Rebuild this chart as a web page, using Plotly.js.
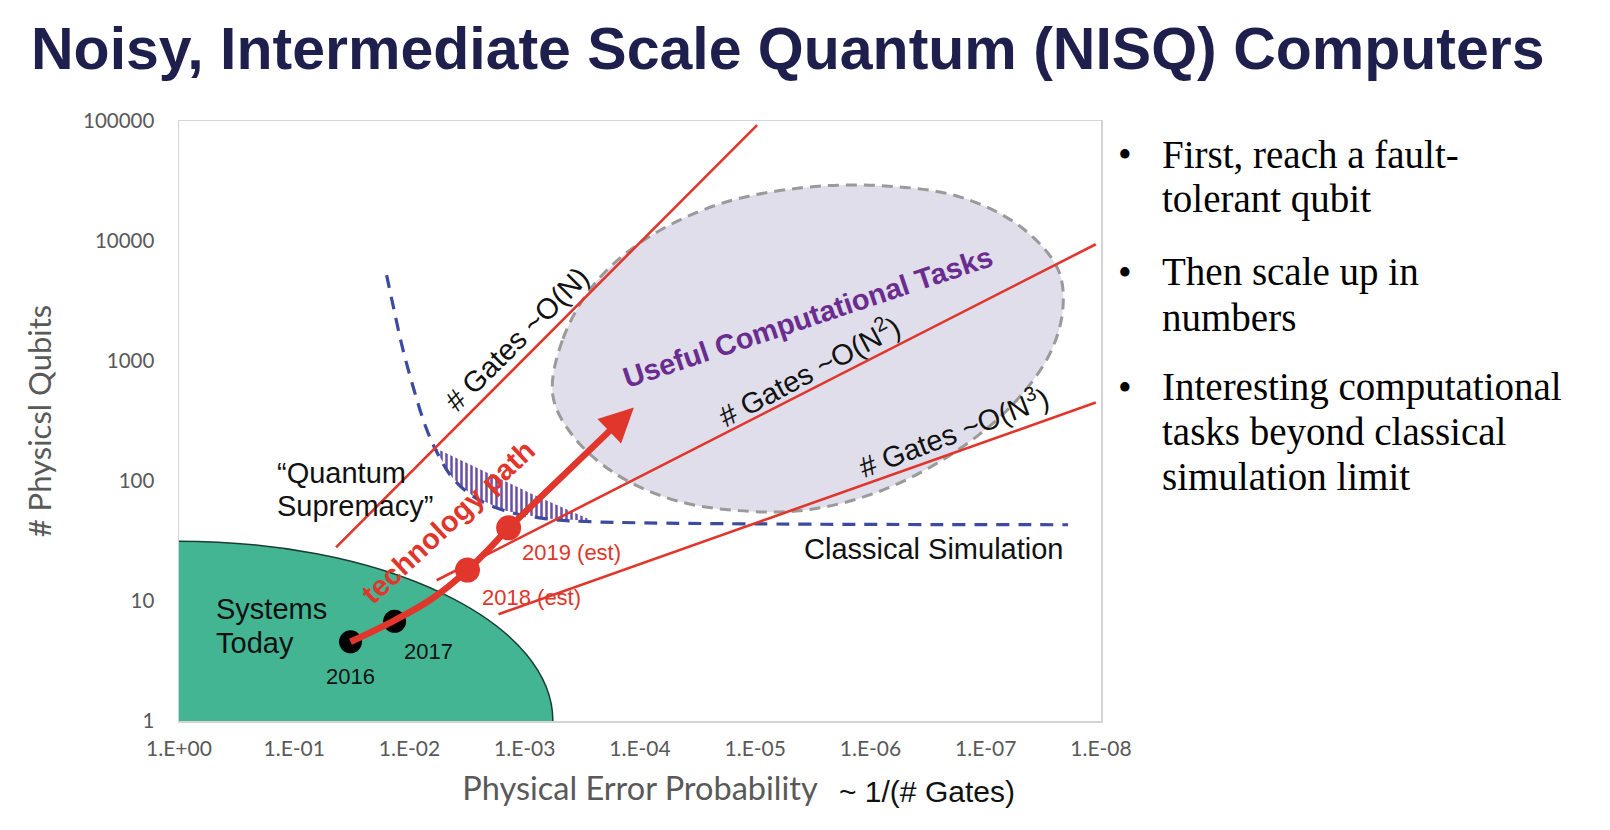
<!DOCTYPE html>
<html>
<head>
<meta charset="utf-8">
<script src="https://cdn.plot.ly/plotly-3.0.1.min.js"></script>
<style>html,body{margin:0;padding:0;background:#fff}</style>
</head>
<body>
<div id="chart" style="width:1610px;height:830px"></div>
<script>
// axes
const errTicks = [1, 1e-1, 1e-2, 1e-3, 1e-4, 1e-5, 1e-6, 1e-7, 1e-8];
const errTickText = ['1.E+00', '1.E-01', '1.E-02', '1.E-03', '1.E-04', '1.E-05', '1.E-06', '1.E-07', '1.E-08'];
const qubitTicks = [1, 10, 100, 1000, 10000, 100000];
const qubitTickText = ['1', '10', '100', '1000', '10000', '100000'];

// "Systems Today" region reaches this far along each axis
const systemsErrReach = 5.7e-4;
const systemsQubitReach = 31.5;

// "Useful Computational Tasks" boundary
const usefulErr = [5.71e-4, 4.66e-4, 2.42e-4, 8.67e-5, 2.06e-5, 3.99e-6, 8.05e-7, 1.66e-7, 4.85e-8, 2.37e-8,
  2.14e-8, 2.79e-8, 5.96e-8, 1.84e-7, 7.74e-7, 3.25e-6, 1.11e-5, 4.68e-5, 1.60e-4, 3.79e-4, 5.71e-4];
const usefulQubits = [518, 1531, 4529, 10570, 20280, 27730, 28910, 23230, 12880, 5848,
  2767, 1140, 425, 175, 84.3, 58.1, 55.8, 67.9, 113.5, 235.5, 518];

// gate-count scaling lines
const gatesN_err = [0.0434, 9.64e-6];
const gatesN_qubits = [28.0, 92470];
const gatesN2_err = [5.81e-3, 1.11e-8];
const gatesN2_qubits = [14.9, 9397];
const gatesN3_err = [1.69e-3, 1.11e-8];
const gatesN3_qubits = [7.76, 451];

// classical simulation limit (dashed)
const classicalErr = [0.0158, 0.01374, 0.01143, 0.00912, 0.00728, 0.00581, 0.00427, 0.00283, 0.00153, 6.7e-4, 2.7e-4, 1.93e-8];
const classicalQubits = [5200, 2770, 1257, 571, 287, 175, 107, 75, 57, 48.6, 45.8, 43.2];

// quantum supremacy sliver (hatched)
const hatchErr = [5.81e-3, 2.31e-3, 8.28e-4, 2.85e-4, 2.85e-4, 6.7e-4, 1.53e-3, 2.83e-3, 4.27e-3, 5.81e-3];
const hatchQubits = [186, 122.7, 76.5, 48.6, 46.8, 48.6, 57, 75, 107, 175];

// technology path
const pathErr = [0.0325, 0.01346, 0.00643, 0.00314, 0.00138];
const pathQubits = [4.57, 6.9, 10.4, 18.1, 40.7];
const pathTipErr = 1.13e-4;
const pathTipQubits = 409;

const pastYears = ['2016', '2017'];
const pastErr = [0.0325, 0.01346];
const pastQubits = [4.57, 6.77];
const estYears = ['2018 (est)', '2019 (est)'];
const estErr = [0.00314, 0.00138];
const estQubits = [18.1, 40.7];

const bullets = [
  ['First, reach a fault-', 'tolerant qubit'],
  ['Then scale up in', 'numbers'],
  ['Interesting computational', 'tasks beyond classical', 'simulation limit']
];

const red = '#e0362c';
const sans = 'Liberation Sans, Arial, sans-serif';

const traces = [
  { x: usefulErr, y: usefulQubits, mode: 'lines', fill: 'toself', fillcolor: '#dfdeea',
    line: { shape: 'spline', color: '#9a9a9a', width: 3, dash: '11px,7px' }, hoverinfo: 'skip' },
  { x: hatchErr, y: hatchQubits, mode: 'lines', fill: 'toself', fillcolor: 'rgba(0,0,0,0)',
    fillpattern: { shape: '|', fgcolor: '#6a4ea6', bgcolor: 'rgba(255,255,255,0)', size: 5, solidity: 0.5 },
    line: { width: 0 }, hoverinfo: 'skip' },
  { x: classicalErr, y: classicalQubits, mode: 'lines',
    line: { shape: 'spline', color: '#3d4b9e', width: 3.2, dash: '13px,9px' } },
  { x: gatesN_err, y: gatesN_qubits, mode: 'lines', line: { color: red, width: 2.6 } },
  { x: gatesN2_err, y: gatesN2_qubits, mode: 'lines', line: { color: red, width: 2.6 } },
  { x: gatesN3_err, y: gatesN3_qubits, mode: 'lines', line: { color: red, width: 2.6 } },
  { x: pastErr, y: pastQubits, mode: 'markers', marker: { color: '#000', size: 23 } },
  { x: pathErr, y: pathQubits, mode: 'lines', line: { shape: 'spline', color: red, width: 6.5 } },
  { x: estErr, y: estQubits, mode: 'markers', marker: { color: red, size: 25 } }
];

// pixel helpers for the text outside the axes
const L = 179, T = 121, W = 922, H = 600;
const px = x => (x - L) / W;
const py = y => (T + H - y) / H;

function lab(text, x, y, o) {
  return Object.assign({ text: text, x: x, y: y, xref: 'x', yref: 'y', showarrow: false,
    font: { family: sans, size: 29, color: '#111' } }, o || {});
}

const annotations = [
  // arrow head of the technology path
  { x: Math.log10(pathTipErr), y: Math.log10(pathTipQubits), xref: 'x', yref: 'y',
    ax: Math.log10(pathErr[pathErr.length - 1]), ay: Math.log10(pathQubits[pathQubits.length - 1]),
    axref: 'x', ayref: 'y', text: '', showarrow: true, arrowhead: 2, arrowsize: 1.05,
    arrowwidth: 6.5, arrowcolor: red, standoff: 0, startstandoff: 0 },
  lab('# Gates ~O(N)', -2.931, 3.185, { textangle: -45 }),
  lab('# Gates ~O(N<sup>2</sup>)', -5.461, 2.928, { textangle: -28 }),
  lab('# Gates ~O(N<sup>3</sup>)', -6.717, 2.414, { textangle: -21 }),
  lab('<b>Useful Computational Tasks</b>', -5.461, 3.365, { textangle: -18.5, font: { family: sans, size: 29, color: '#6b2c8f' } }),
  lab('<b>technology path</b>', -2.334, 1.661, { textangle: -43, font: { family: sans, size: 29, color: red } }),
  lab('\u201cQuantum', -0.837, 2.063, { xanchor: 'left' }),
  lab('Supremacy\u201d', -0.837, 1.789, { xanchor: 'left' }),
  lab('Systems', -0.303, 0.933, { xanchor: 'left' }),
  lab('Today', -0.303, 0.651, { xanchor: 'left' }),
  lab(pastYears[0], -1.488, 0.368, { font: { family: sans, size: 22, color: '#111' } }),
  lab(pastYears[1], -2.165, 0.582, { font: { family: sans, size: 22, color: '#111' } }),
  lab(estYears[1], -3.403, 1.404, { font: { family: sans, size: 22, color: red } }),
  lab(estYears[0], -3.056, 1.027, { font: { family: sans, size: 22, color: red } }),
  lab('Classical Simulation', -6.548, 1.430),
  { text: '~ 1/(# Gates)', xref: 'paper', yref: 'paper', x: px(837), y: py(791), xanchor: 'left', yanchor: 'middle',
    showarrow: false, font: { family: sans, size: 30, color: '#111' } }
];

// bullet list on the right
const lineY = [[154, 199], [272, 317], [387, 432, 477]];
bullets.forEach((lines, i) => {
  annotations.push({ text: '\u2022', xref: 'paper', yref: 'paper', x: px(1125), y: py(lineY[i][0]),
    xanchor: 'center', yanchor: 'middle', showarrow: false,
    font: { family: 'Liberation Serif, Times New Roman, serif', size: 39, color: '#000' } });
  lines.forEach((t, j) => {
    annotations.push({ text: t, xref: 'paper', yref: 'paper', x: px(1160), y: py(lineY[i][j]),
      xanchor: 'left', yanchor: 'middle', showarrow: false,
      font: { family: 'Liberation Serif, Times New Roman, serif', size: 39, color: '#000' } });
  });
});

const layout = {
  width: 1610, height: 830,
  margin: { l: L, r: 1610 - L - W, t: T, b: 830 - T - H },
  paper_bgcolor: '#fff', plot_bgcolor: '#fff',
  showlegend: false,
  title: { text: '<b>Noisy, Intermediate Scale Quantum (NISQ) Computers</b>',
    font: { family: sans, size: 59, color: '#1f1f4e' },
    x: 31 / 1610, xref: 'container', xanchor: 'left', y: 1 - 48 / 830, yref: 'container', yanchor: 'middle' },
  xaxis: {
    type: 'log', range: [0, -8], tickvals: errTicks, ticktext: errTickText,
    showgrid: false, zeroline: false, showline: true, mirror: true, linecolor: '#d4d4d4', linewidth: 1.5,
    ticks: '', ticklabelstandoff: 8,
    tickfont: { family: 'Lato, sans-serif', size: 21, color: '#595959' },
    title: { text: 'Physical Error Probability', standoff: 18, font: { family: 'Lato, sans-serif', size: 32.5, color: '#595959' } }
  },
  yaxis: {
    type: 'log', range: [0, 5], tickvals: qubitTicks, ticktext: qubitTickText,
    showgrid: false, zeroline: false, showline: true, mirror: true, linecolor: '#d4d4d4', linewidth: 1.5,
    ticks: '', ticklabelstandoff: 19,
    tickfont: { family: 'Lato, sans-serif', size: 20.5, color: '#595959' },
    title: { text: '# Physicsl Qubits', standoff: 22, font: { family: 'Lato, sans-serif', size: 31, color: '#595959' } }
  },
  shapes: [
    { type: 'circle', xref: 'x', yref: 'y', layer: 'below',
      x0: 1 / systemsErrReach, x1: systemsErrReach, y0: 1 / systemsQubitReach, y1: systemsQubitReach,
      fillcolor: '#43b592', line: { color: '#1b3d33', width: 1.5 } }
  ],
  annotations: annotations
};

Plotly.newPlot('chart', traces, layout, { displayModeBar: false, staticPlot: true });
</script>
</body>
</html>
